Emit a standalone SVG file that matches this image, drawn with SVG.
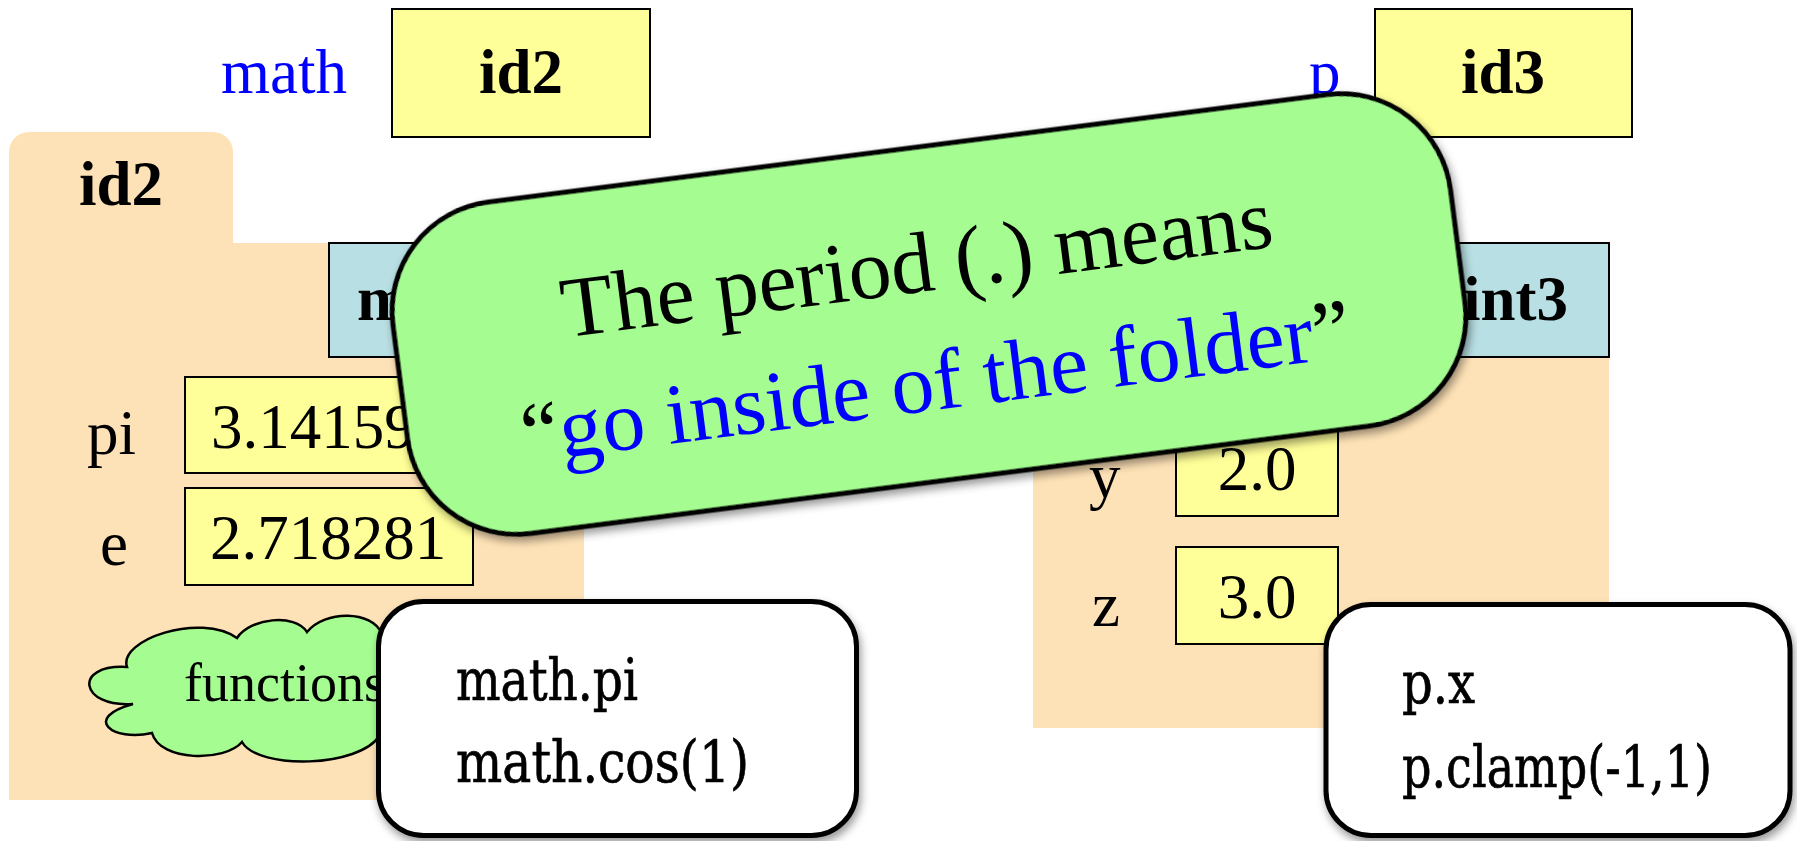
<svg xmlns="http://www.w3.org/2000/svg" width="1797" height="841" viewBox="0 0 1797 841">
<defs>
<filter id="shadow" x="-10%" y="-10%" width="120%" height="130%">
<feDropShadow dx="2" dy="5" stdDeviation="4" flood-color="#000" flood-opacity="0.4"/>
</filter>
</defs>
<style>
.serif{font-family:"Liberation Serif","Times New Roman",serif;fill:#000}
.big{font-size:63px}
.bold{font-weight:bold}
.var{fill:#0000FF}
.yel{fill:#FFFF99;stroke:#000;stroke-width:2}
.cls{fill:#B8DFE3;stroke:#000;stroke-width:2}
.folder{fill:#FEE2B7}
.code{fill:#fff;stroke:#000;stroke-width:5;filter:url(#shadow)}
.mono{font-family:"DejaVu Serif","Liberation Serif",serif;font-size:57px;fill:#000;stroke:#000;stroke-width:0.7}
.cloud{fill:#A5FD92;stroke:#000;stroke-width:2.5}
.callout{fill:#A5FD92;stroke:#000;stroke-width:5;filter:url(#shadow)}
.note{font-family:"Liberation Serif","Times New Roman",serif;font-size:86px;fill:#000}
</style>
<rect width="1797" height="841" fill="#fff"/>

<g id="var-math">
<text class="serif big var" x="221" y="93">math</text>
<rect class="yel" x="392" y="9" width="258" height="128"/>
<text class="serif big bold" x="521" y="93" text-anchor="middle">id2</text>
</g>

<g id="var-p">
<text class="serif big var" x="1309" y="93">p</text>
<rect class="yel" x="1375" y="9" width="257" height="128"/>
<text class="serif big bold" x="1503" y="93" text-anchor="middle">id3</text>
</g>

<g id="folder-id2">
<path class="folder" d="M9,243 V152 A20,20 0 0 1 29,132 H213 A20,20 0 0 1 233,152 V243 H584 V800 H9 Z"/>
<text class="serif big bold" x="121" y="205" text-anchor="middle">id2</text>
<rect class="cls" x="329" y="243" width="255" height="114"/>
<text class="serif big bold" x="357" y="320">m</text>
<text class="serif big" x="87" y="454">pi</text>
<rect class="yel" x="185" y="377" width="288" height="96"/>
<text class="serif big" x="211" y="448">3.14159</text>
<text class="serif big" x="100" y="565">e</text>
<rect class="yel" x="185" y="488" width="288" height="97"/>
<text class="serif big" x="210" y="559">2.718281</text>
</g>

<g id="cloud-functions">
<path class="cloud" d="M127,667 C118,640 200,612 237,638 C250,618 295,613 307,632 C325,610 372,610 382,634 C425,650 425,722 380,735 C360,768 258,770 242,742 C225,762 160,762 152,733 C112,742 82,718 133,704 C80,708 72,664 127,667 Z"/>
<text class="serif" font-size="54" x="184" y="701">functions</text>
</g>

<g id="folder-id3">
<path class="folder" d="M1033,243 V152 A20,20 0 0 1 1053,132 H1237 A20,20 0 0 1 1257,152 V243 H1609 V728 H1033 Z"/>
<rect class="cls" x="1352" y="243" width="257" height="114"/>
<text class="serif big bold" x="1568" y="320" text-anchor="end">int3</text>
<text class="serif big" x="1089" y="497">y</text>
<rect class="yel" x="1176" y="419" width="162" height="97"/>
<text class="serif big" x="1257" y="490" text-anchor="middle">2.0</text>
<text class="serif big" x="1092" y="626">z</text>
<rect class="yel" x="1176" y="547" width="162" height="97"/>
<text class="serif big" x="1257" y="618" text-anchor="middle">3.0</text>
</g>

<g id="code-math">
<rect class="code" x="378.5" y="601.5" width="478" height="234" rx="45"/>
<text class="mono" x="456" y="700" textLength="182" lengthAdjust="spacingAndGlyphs">math.pi</text>
<text class="mono" x="456" y="782" textLength="293" lengthAdjust="spacingAndGlyphs">math.cos(1)</text>
</g>

<g id="code-p">
<rect class="code" x="1326" y="604.5" width="464" height="231" rx="45"/>
<text class="mono" x="1402" y="703" textLength="73" lengthAdjust="spacingAndGlyphs">p.x</text>
<text class="mono" x="1402" y="787" textLength="310" lengthAdjust="spacingAndGlyphs">p.clamp(-1,1)</text>
</g>

<g id="connectors"></g>

<g id="callout" transform="translate(929,314) rotate(-7.3)">
<rect class="callout" x="-533" y="-167" width="1066" height="334" rx="110"/>
<text class="note" x="-6" y="-23" text-anchor="middle">The period (.) means</text>
<text class="note" x="-2" y="96" text-anchor="middle">“<tspan class="var">go inside of the folder</tspan>”</text>
</g>
</svg>
